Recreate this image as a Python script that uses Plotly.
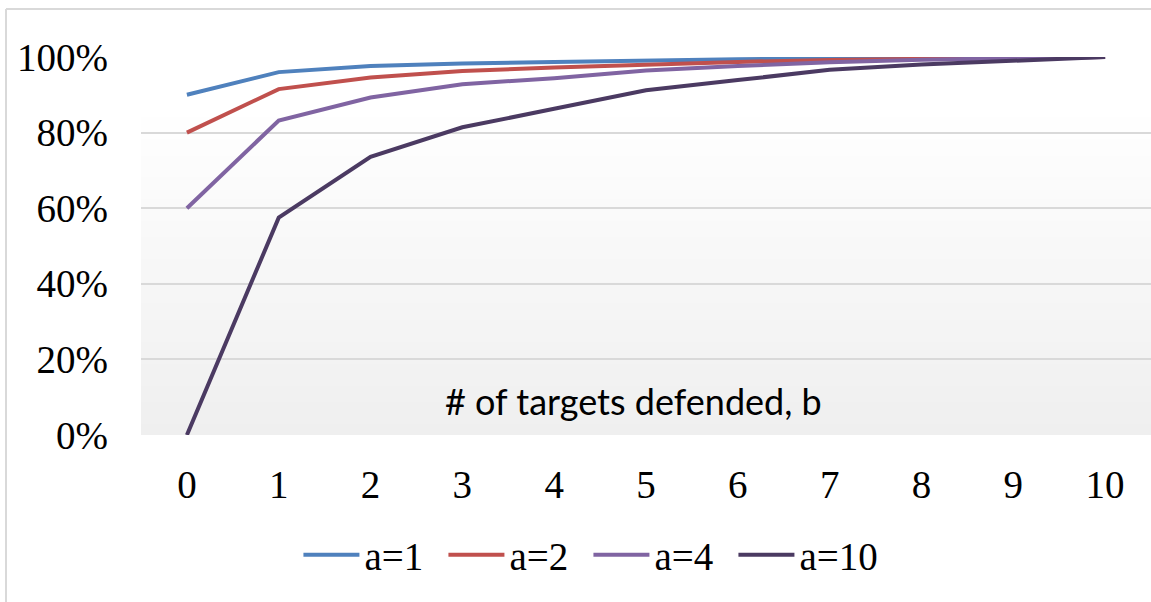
import plotly.graph_objects as go

b_values = [0, 1, 2, 3, 4, 5, 6, 7, 8, 9, 10]
series_names = ["a=1", "a=2", "a=4", "a=10"]
a1 = [0.900, 0.960, 0.976, 0.983, 0.987, 0.991, 0.994, 0.996, 0.998, 0.999, 1.000]
a2 = [0.800, 0.915, 0.946, 0.963, 0.972, 0.980, 0.987, 0.992, 0.996, 0.998, 1.000]
a4 = [0.600, 0.832, 0.893, 0.928, 0.944, 0.964, 0.976, 0.986, 0.993, 0.997, 1.000]
a10 = [0.000, 0.575, 0.736, 0.814, 0.863, 0.912, 0.939, 0.966, 0.980, 0.991, 1.000]
series_values = [a1, a2, a4, a10]
colors = ["#4f81bd", "#c0504d", "#8064a2", "#4b3a62"]
y_ticks = [0, 0.2, 0.4, 0.6, 0.8, 1.0]
y_tick_labels = ["0%", "20%", "40%", "60%", "80%", "100%"]
x_title = "# of targets defended, b"

W, H = 1151, 602
ML, MR, MT, MB = 141, 0, 57, 167

fig = go.Figure()
for name, vals, col in zip(series_names, series_values, colors):
    fig.add_trace(go.Scatter(x=b_values, y=vals, name=name, mode="lines",
                             line=dict(color=col, width=4), cliponaxis=False))

# gradient background of plot area
shapes = []
n = 60
start = 0.87
for i in range(n):
    y0 = start * i / n
    y1 = start * (i + 1) / n
    t = 1 - (i + 0.5) / n
    g = int(round(255 - t * (255 - 239)))
    shapes.append(dict(type="rect", xref="x domain", yref="y domain", x0=0, x1=1,
                       y0=y0, y1=y1 + 0.002, fillcolor=f"rgb({g},{g},{g})",
                       line=dict(width=0), layer="below"))
# chart border (left/top)
pw = W - ML - MR
ph = H - MT - MB
bx = (6 - ML) / pw
by = 1 + (MT - 9) / ph
shapes.append(dict(type="line", xref="paper", yref="paper", x0=bx, x1=bx, y0=by, y1=-2,
                   line=dict(color="#d9d9d9", width=2)))
shapes.append(dict(type="line", xref="paper", yref="paper", x0=bx, x1=1.2, y0=by, y1=by,
                   line=dict(color="#d9d9d9", width=2)))

serif = "Liberation Serif, Times New Roman, serif"
fig.update_layout(
    width=W, height=H,
    margin=dict(l=ML, r=MR, t=MT, b=MB),
    paper_bgcolor="white", plot_bgcolor="rgba(0,0,0,0)",
    shapes=shapes,
    font=dict(family=serif, size=39, color="#000000"),
    xaxis=dict(range=[-0.5, 10.5], tickvals=b_values, ticktext=[str(v) for v in b_values],
               showgrid=False, zeroline=False, showline=False, ticks="",
               ticklabelstandoff=23, tickfont=dict(size=39)),
    yaxis=dict(range=[0, 1], tickvals=y_ticks, ticktext=y_tick_labels,
               showgrid=True, gridcolor="#d9d9d9", gridwidth=2, zeroline=False,
               showline=False, ticks="", ticklabelstandoff=32, tickfont=dict(size=39)),
    legend=dict(orientation="h", x=0.443, xanchor="center", y=-0.317, yanchor="middle",
                font=dict(size=39), itemwidth=56, entrywidth=74, entrywidthmode="pixels",
                bgcolor="rgba(0,0,0,0)", tracegroupgap=0),
    showlegend=True,
    annotations=[dict(text=x_title, x=4.86, y=0.09, xref="x", yref="y",
                      showarrow=False, xanchor="center", yanchor="middle",
                      font=dict(family="Lato, Liberation Sans, sans-serif",
                                size=36, color="#000000"))],
)

fig.write_html("out.html", config={"displayModeBar": False},
               post_script="document.body.style.margin='0';document.body.style.overflow='hidden';")
